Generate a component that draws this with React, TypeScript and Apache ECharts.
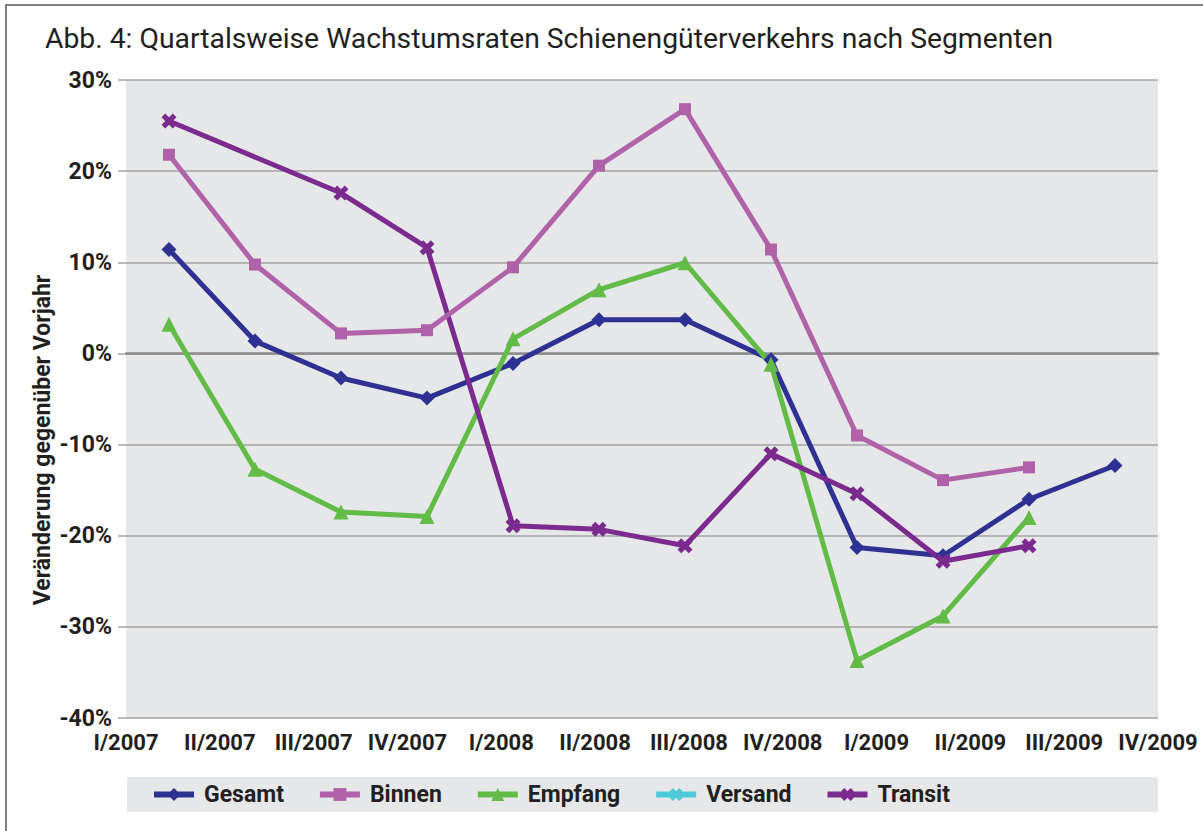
import React, { useEffect, useRef } from "react";
import * as echarts from "echarts";

const categories = [
  "I/2007", "II/2007", "III/2007", "IV/2007",
  "I/2008", "II/2008", "III/2008", "IV/2008",
  "I/2009", "II/2009", "III/2009", "IV/2009",
];
const gesamt = [11.4, 1.35, -2.7, -4.9, -1.1, 3.7, 3.7, -0.7, -21.3, -22.2, -16.0, -12.3];
const binnen = [21.8, 9.75, 2.2, 2.55, 9.45, 20.6, 26.8, 11.4, -9.0, -13.9, -12.5, null];
const empfang = [3.2, -12.7, -17.4, -17.9, 1.6, 7.0, 9.95, -1.2, -33.7, -28.8, -18.0, null];
const versand: (number | null)[] = [null, null, null, null, null, null, null, null, null, null, null, null];
const transit = [25.5, null, 17.6, 11.6, -18.9, -19.3, -21.1, -11.0, -15.4, -22.8, -21.1, null];

const seriesNames = ["Gesamt", "Binnen", "Empfang", "Versand", "Transit"];
const colors = ["#2e3192", "#b062a8", "#62bb46", "#4ec9da", "#7b2a8e"];
const yTicks = { min: -40, max: 30, interval: 10 };

const xPath =
  "path://M0,2.5 L2.5,0 L5,2.5 L7.5,0 L10,2.5 L7.5,5 L10,7.5 L7.5,10 L5,7.5 L2.5,10 L0,7.5 L2.5,5 Z";
const symbols = ["diamond", "rect", "triangle", xPath, xPath];
const symbolSizes = [15, 12, 15, 15, 15];

const FONT = "Roboto";
const TXT = "#231f20";

export default function App() {
  const ref = useRef<HTMLDivElement>(null);
  useEffect(() => {
    if (!ref.current) return;
    const chart = echarts.init(ref.current, undefined, { renderer: "svg" });
    const data = [gesamt, binnen, empfang, versand, transit];
    const option: any = {
      animation: false,
      backgroundColor: "#ffffff",
      textStyle: { fontFamily: FONT },
      grid: {
        left: 126, right: 45, top: 80, bottom: 113,
        show: true, backgroundColor: "#e6e7e9", borderWidth: 0,
      },
      xAxis: [
        {
          type: "category", data: categories, boundaryGap: true, position: "bottom",
          axisLine: { show: true, onZero: true, lineStyle: { color: "#8c8c8c", width: 2.5 } },
          axisTick: { show: false }, axisLabel: { show: false }, splitLine: { show: false },
        },
        {
          type: "category", data: categories, boundaryGap: false, position: "bottom",
          axisLine: { show: false, onZero: false }, axisTick: { show: false },
          splitLine: { show: false },
          axisLabel: {
            show: true, margin: 13, color: TXT, fontFamily: FONT,
            fontWeight: "bold", fontSize: 22, interval: 0,
          },
        },
      ],
      yAxis: {
        type: "value", min: yTicks.min, max: yTicks.max, interval: yTicks.interval,
        axisLine: { show: false },
        axisTick: { show: true, length: 8, lineStyle: { color: "#a3a3a3", width: 1.5 } },
        axisLabel: {
          formatter: "{value}%", color: TXT, fontFamily: FONT,
          fontWeight: "bold", fontSize: 23, margin: 14,
        },
        splitLine: { show: true, lineStyle: { color: "#a3a3a3", width: 1.5 } },
      },
      legend: {
        data: seriesNames,
        left: 127, top: 777,
        orient: "horizontal",
        padding: [6, 0, 6, 24],
        itemGap: 33,
        itemWidth: 40,
        itemHeight: 16,
        lineStyle: { width: 6 },
        textStyle: {
          color: TXT, fontFamily: FONT, fontWeight: "bold", fontSize: 23,
          padding: [0, 0, 0, 5],
        },
      },
      graphic: [
        {
          type: "rect", shape: { x: 127, y: 777, width: 1031, height: 35 },
          style: { fill: "#e6e7e9" }, silent: true, z: -10,
        },
        {
          type: "rect", shape: { x: 6, y: 5, width: 1240, height: 880 },
          style: { fill: "none", stroke: "#555555", lineWidth: 1.5 }, silent: true,
        },
        {
          type: "text", x: 45, y: 38,
          style: {
            text: "Abb. 4: Quartalsweise Wachstumsraten Schienengüterverkehrs nach Segmenten",
            fill: TXT, font: `28.3px ${FONT}`, textVerticalAlign: "middle",
          },
        },
        {
          type: "text", x: 42, y: 440, rotation: Math.PI / 2,
          style: {
            text: "Veränderung gegenüber Vorjahr", fill: TXT,
            font: `bold 23px ${FONT}`, textAlign: "center", textVerticalAlign: "middle",
          },
        },
      ],
      series: seriesNames.map((name, i) => ({
        name,
        type: "line",
        xAxisIndex: 0, yAxisIndex: 0,
        data: data[i],
        connectNulls: true,
        symbol: symbols[i],
        symbolSize: symbolSizes[i],
        showAllSymbol: true,
        color: colors[i],
        lineStyle: { color: colors[i], width: 5 },
        itemStyle: { color: colors[i] },
        z: i === 1 ? 3 : 2,
      })),
    };
    chart.setOption(option);
    return () => chart.dispose();
  }, []);
  return (
    <div
      ref={ref}
      style={{ position: "fixed", left: 0, top: 0, width: 1203, height: 831 }}
    />
  );
}
